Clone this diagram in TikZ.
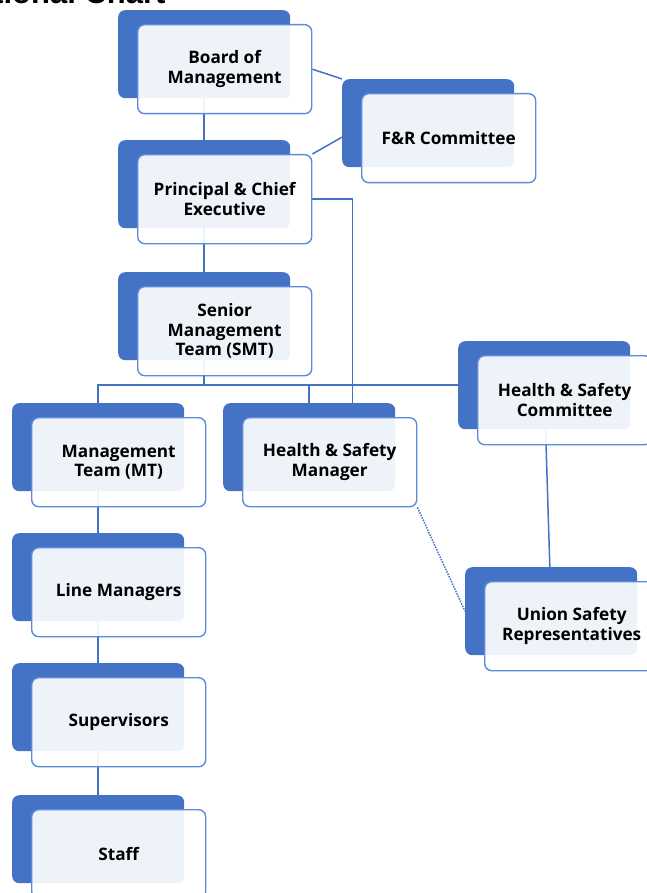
\documentclass[tikz,border=0pt]{standalone}
\usepackage{fontspec}
\setmainfont{Open Sans}
\newfontfamily\titlefont{Liberation Sans}
\usetikzlibrary{backgrounds,calc}
\definecolor{boxblue}{HTML}{4472C4}
\definecolor{edgeblue}{HTML}{5B8BD9}
\begin{document}
\begin{tikzpicture}[x=1pt,y=-1pt,line join=round,
	backbox/.style={fill=boxblue,rounded corners=7pt,minimum width=172pt,minimum height=88pt,inner sep=0pt},
	frontbox/.style={draw=edgeblue,line width=1.4pt,fill=white,fill opacity=.91,text opacity=1,rounded corners=7pt,minimum width=174pt,minimum height=89pt,inner sep=0pt,align=center,font=\fontsize{17.2}{19.5}\selectfont\bfseries},
	link/.style={draw=boxblue,line width=1.5pt}]
	\useasboundingbox (0,0) rectangle (646,893);
	\node[anchor=base east,font=\titlefont\fontsize{31}{31}\selectfont\bfseries] (title) at (169,4) {Organisational Chart};
	% boxes: back corner x/y
	\foreach \n/\x/\y/\txt in {board/118/10/{Board of\\Management}, prin/118/140/{Principal \& Chief\\Executive}, smt/118/272/{Senior\\Management\\Team (SMT)}, fr/342/79/{F\&R Committee}, mt/12/403/{Management\\Team (MT)}, hsm/223/403/{Health \& Safety\\Manager}, hsc/458/341/{Health \& Safety\\Committee}, mgr/12/533/{Line Managers}, sup/12/663/{Supervisors}, staff/12/795/{Staff}, usr/465/567/{Union Safety\\Representatives}}{
		\node[backbox,anchor=north west] (\n-back) at (\x,\y) {};
		\node[frontbox,anchor=north west] (\n) at (\x+19,\y+14) {\txt};
	}
	\begin{scope}[on background layer]
		\draw[link] (board-back) -- (prin-back) -- (smt-back);
		\draw[link] (board.east) -- (fr-back.north west);
		\draw[link] (prin.north east) -- ($(fr-back.west)+(0,14)$);
		\draw[link] (prin.east) -| ($(hsm-back.north east)+(-43,0)$);
		\draw[link] (mt-back.north) |- (hsc-back.west);
		\draw[link] (smt-back) -- (smt-back |- hsc-back.west);
		\draw[link] (hsm-back.north) -- (hsm-back.north |- hsc-back.west);
		\draw[link] (hsc-back) -- (usr-back);
		\draw[link,line width=1.5pt,dash pattern=on 1.5pt off 1.2pt] (hsm.south east) -- (usr-back.west);
		\draw[link] (mt-back) -- (mgr-back) -- (sup-back) -- (staff-back);
	\end{scope}
\end{tikzpicture}
\end{document}
